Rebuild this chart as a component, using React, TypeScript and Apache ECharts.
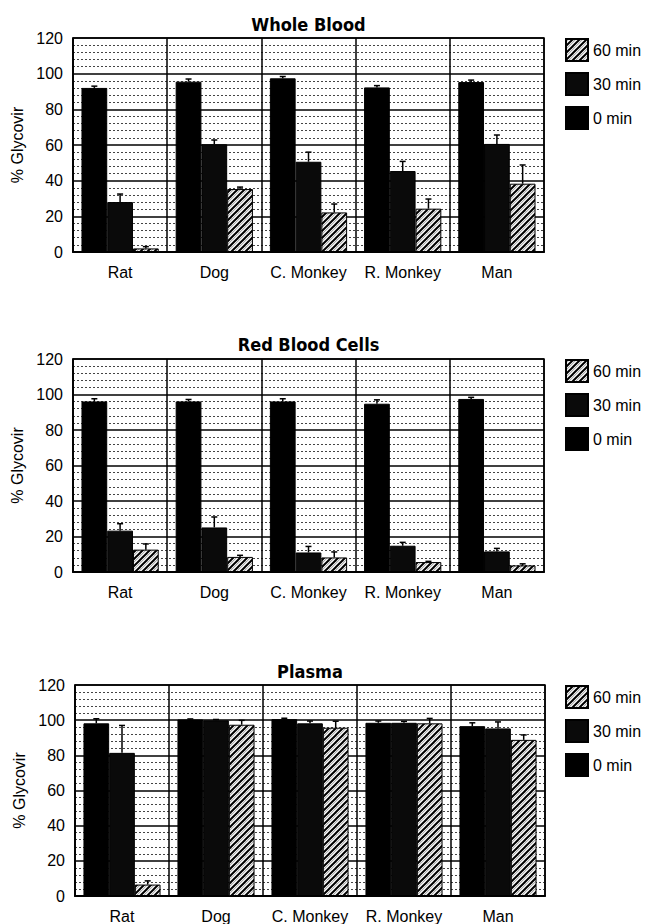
import React, { useEffect, useRef } from 'react';
import * as echarts from 'echarts';

const categories = ['Rat', 'Dog', 'C. Monkey', 'R. Monkey', 'Man'];
const seriesNames = ['0 min', '30 min', '60 min'];
const legendOrder = ['60 min', '30 min', '0 min'];
const panelTitles = ['Whole Blood', 'Red Blood Cells', 'Plasma'];
const yAxisName = '% Glycovir';

// Whole Blood
const wholeBlood0 = [92, 95.5, 97.4, 92.3, 95.3];
const wholeBlood0Err = [1, 1.5, 1, 1, 1.1];
const wholeBlood30 = [28, 60.4, 50.6, 45.4, 60.6];
const wholeBlood30Err = [4.5, 2.4, 5.4, 5.4, 5];
const wholeBlood60 = [2, 35.3, 22.2, 24.3, 38.3];
const wholeBlood60Err = [1, 1.1, 4.7, 5.4, 10.5];

// Red Blood Cells
const rbc0 = [96.1, 96.1, 96.1, 94.8, 97.5];
const rbc0Err = [1.5, 1.1, 1.5, 2.2, 0.9];
const rbc30 = [23.3, 25.1, 11, 14.8, 11.6];
const rbc30Err = [3.9, 5.9, 3.4, 1.9, 1.7];
const rbc60 = [12.6, 8.5, 8.2, 5.6, 3.7];
const rbc60Err = [3.2, 0.9, 3.1, 0.4, 0.9];

// Plasma
const plasma0 = [98.2, 100.4, 100.6, 98.5, 96.6];
const plasma0Err = [2.6, 0.3, 0.5, 1, 1.9];
const plasma30 = [81.4, 99.9, 98.2, 98.5, 95.3];
const plasma30Err = [15.6, 0.5, 1.3, 0.8, 3.7];
const plasma60 = [6.5, 97.4, 95.7, 98.2, 88.8];
const plasma60Err = [2.1, 2.5, 3.7, 2.8, 2.8];

const panelValues = [
  [wholeBlood0, wholeBlood30, wholeBlood60],
  [rbc0, rbc30, rbc60],
  [plasma0, plasma30, plasma60],
];
const panelErrors = [
  [wholeBlood0Err, wholeBlood30Err, wholeBlood60Err],
  [rbc0Err, rbc30Err, rbc60Err],
  [plasma0Err, plasma30Err, plasma60Err],
];

const grids = [
  { left: 73, top: 38, width: 471, height: 214 },
  { left: 73, top: 359, width: 471, height: 213 },
  { left: 75, top: 685, width: 470, height: 214 },
];
const titleY = [24, 344.5, 671.5];

const FONT = '"Liberation Sans", Arial, Helvetica, sans-serif';
const TITLE_FONT = '"DejaVu Sans Condensed", "DejaVu Sans", sans-serif';
const CAT_GAP = 0.18;

function makeHatch(): HTMLCanvasElement {
  const p = 7;
  const c = document.createElement('canvas');
  c.width = p;
  c.height = p;
  const ctx = c.getContext('2d')!;
  ctx.fillStyle = '#fff';
  ctx.fillRect(0, 0, p, p);
  const drawDiag = (off: number, color: string, w: number) => {
    ctx.strokeStyle = color;
    ctx.lineWidth = w;
    for (const k of [-p, 0, p]) {
      ctx.beginPath();
      ctx.moveTo(-1 + k + off, p + 1);
      ctx.lineTo(p + 1 + k + off, -1);
      ctx.stroke();
    }
  };
  drawDiag(3.2, '#999', 1);
  drawDiag(0, '#000', 2);
  return c;
}

function buildOption(hatchCanvas: HTMLCanvasElement) {
  const seriesStyle = [
    { color: '#000', borderColor: '#000', borderWidth: 1 },
    { color: '#0a0a0a', borderColor: '#000', borderWidth: 1 },
    { color: { image: hatchCanvas, repeat: 'repeat' }, borderColor: '#000', borderWidth: 1 },
  ];
  const grid: any[] = [];
  const xAxis: any[] = [];
  const yAxis: any[] = [];
  const legend: any[] = [];
  const series: any[] = [];
  const graphic: any[] = [];

  grids.forEach((g, p) => {
    grid.push({
      ...g,
      show: true,
      borderColor: '#000',
      borderWidth: 1.5,
      backgroundColor: 'transparent',
      containLabel: false,
    });
    xAxis.push({
      type: 'category',
      gridIndex: p,
      data: categories,
      axisLine: { show: true, lineStyle: { color: '#000', width: 2 } },
      axisTick: { show: false },
      axisLabel: { color: '#000', fontSize: 16, fontFamily: FONT, margin: 12, interval: 0 },
      splitLine: { show: true, interval: 0, lineStyle: { color: '#000', width: 1.5 } },
    });
    yAxis.push({
      type: 'value',
      gridIndex: p,
      min: 0,
      max: 120,
      interval: 20,
      name: yAxisName,
      nameLocation: 'middle',
      nameGap: 46,
      nameRotate: 90,
      nameTextStyle: { color: '#000', fontSize: 16, fontFamily: FONT },
      axisLine: { show: true, lineStyle: { color: '#000', width: 1.5 } },
      axisTick: { show: false },
      axisLabel: { color: '#000', fontSize: 16, fontFamily: FONT, margin: 10 },
      splitLine: { show: true, lineStyle: { color: '#000', width: 1.5 } },
      minorTick: { show: false, splitNumber: 5 },
      minorSplitLine: { show: true, lineStyle: { color: '#444', width: 1, type: [2, 2] } },
    });
    legend.push({
      orient: 'vertical',
      left: 565,
      top: g.top,
      padding: 0,
      itemWidth: 22,
      itemHeight: 22,
      itemGap: 10,
      icon: 'rect',
      data: legendOrder,
      textStyle: { color: '#000', fontSize: 16, fontFamily: FONT },
      selectedMode: false,
    });
    seriesNames.forEach((name, si) => {
      series.push({
        type: 'bar',
        name,
        xAxisIndex: p,
        yAxisIndex: p,
        data: panelValues[p][si],
        barGap: '0%',
        barCategoryGap: CAT_GAP * 100 + '%',
        itemStyle: seriesStyle[si],
        emphasis: { disabled: true },
        z: 2,
      });
    });
    const errData: number[][] = [];
    seriesNames.forEach((_, si) => {
      panelValues[p][si].forEach((v, ci) => {
        errData.push([ci, v, panelErrors[p][si][ci], si]);
      });
    });
    series.push({
      type: 'custom',
      name: 'err' + p,
      xAxisIndex: p,
      yAxisIndex: p,
      data: errData,
      encode: { x: 0, y: 1 },
      z: 5,
      silent: true,
      renderItem: (params: any, api: any) => {
        const ci = api.value(0);
        const v = api.value(1);
        const e = api.value(2);
        const si = api.value(3);
        const band = api.size([1, 0])[0];
        const bw = (band * (1 - CAT_GAP)) / 3;
        const base = api.coord([ci, v]);
        const top = api.coord([ci, v + e]);
        const x = base[0] + (si - 1) * bw;
        return {
          type: 'group',
          children: [
            { type: 'line', shape: { x1: x, y1: base[1], x2: x, y2: top[1] }, style: { stroke: '#000', lineWidth: 1.5 } },
            { type: 'line', shape: { x1: x - 3, y1: top[1], x2: x + 3, y2: top[1] }, style: { stroke: '#000', lineWidth: 1.5 } },
          ],
        };
      },
    });
    graphic.push({
      type: 'text',
      style: {
        text: panelTitles[p],
        x: g.left + g.width / 2,
        y: titleY[p],
        textAlign: 'center',
        textVerticalAlign: 'middle',
        fontSize: 18,
        fontWeight: 'bold',
        fontFamily: TITLE_FONT,
        fill: '#000',
      },
    });
  });

  return {
    animation: false,
    backgroundColor: '#fff',
    grid,
    xAxis,
    yAxis,
    legend,
    series,
    graphic,
  };
}

export default function App() {
  const ref = useRef<HTMLDivElement>(null);
  useEffect(() => {
    if (!ref.current) return;
    const chart = echarts.init(ref.current, undefined, { renderer: 'svg' });
    chart.setOption(buildOption(makeHatch()) as any);
    return () => chart.dispose();
  }, []);
  return (
    <div
      ref={ref}
      style={{ position: 'fixed', left: 0, top: 0, width: 646, height: 924, background: '#fff' }}
    />
  );
}
